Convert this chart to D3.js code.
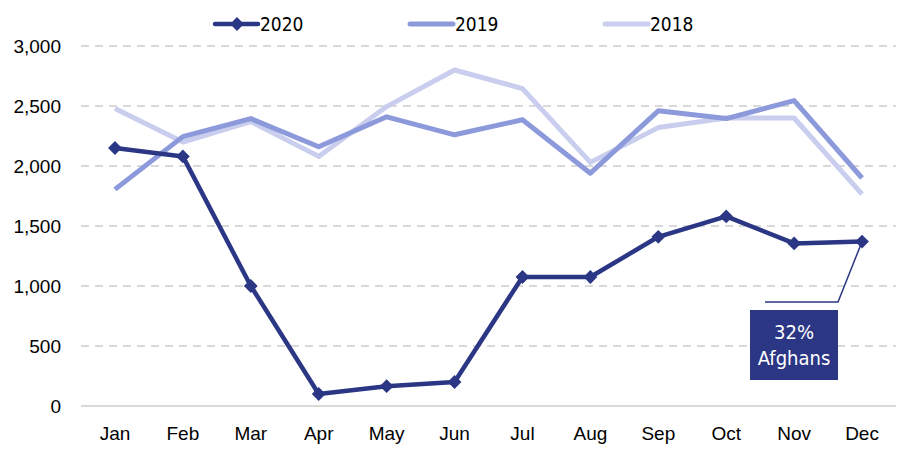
<!DOCTYPE html>
<html>
<head>
<meta charset="utf-8">
<script src="https://cdn.jsdelivr.net/npm/d3@7"></script>
<style>
  body { margin: 0; background: #fff; }
  svg { display: block; font-family: "DejaVu Sans Condensed", "Liberation Sans Narrow", "Liberation Sans", sans-serif; }
</style>
</head>
<body>
<svg id="chart" width="903" height="451"></svg>
<script>
// -------------------------
// Data
// -------------------------
const months = ["Jan", "Feb", "Mar", "Apr", "May", "Jun", "Jul", "Aug", "Sep", "Oct", "Nov", "Dec"];
const values2020 = [2150, 2080, 1000, 100, 165, 200, 1075, 1075, 1410, 1580, 1355, 1370];
const values2019 = [1805, 2245, 2395, 2160, 2410, 2260, 2385, 1940, 2460, 2395, 2545, 1900];
const values2018 = [2480, 2200, 2370, 2080, 2495, 2800, 2645, 2030, 2320, 2400, 2400, 1765];
const yTicks = [0, 500, 1000, 1500, 2000, 2500, 3000];
const noteLines = ["32%", "Afghans"];

const series = [
    {name: "2018", values: values2018, color: "#c9ceee", width: 5, marker: false},
    {name: "2019", values: values2019, color: "#8c9adb", width: 5, marker: false},
    {name: "2020", values: values2020, color: "#2b3784", width: 4.5, marker: true}
];

// -------------------------
// Scales
// -------------------------
const svg = d3.select("#chart");
const plotLeft = 81, plotRight = 896, plotTop = 46, plotBottom = 406;

const x = d3.scaleBand().domain(months).range([plotLeft, plotRight]);
const xc = m => x(m) + x.bandwidth() / 2;
const y = d3.scaleLinear().domain([0, 3000]).range([plotBottom, plotTop]);

// gridlines
svg.append("g")
    .selectAll("line")
    .data(yTicks.filter(t => t > 0))
    .enter()
    .append("line")
    .attr("x1", plotLeft).attr("x2", plotRight)
    .attr("y1", d => y(d)).attr("y2", d => y(d))
    .attr("stroke", "#d9d9d9")
    .attr("stroke-width", 2)
    .attr("stroke-dasharray", "8,6");

svg.append("line")
    .attr("x1", plotLeft).attr("x2", plotRight)
    .attr("y1", y(0)).attr("y2", y(0))
    .attr("stroke", "#d9d9d9")
    .attr("stroke-width", 2);

// y axis labels
const yAxis = svg.append("g")
    .attr("transform", `translate(${plotLeft - 20},0)`)
    .call(d3.axisLeft(y).tickValues(yTicks).tickSize(0).tickPadding(0).tickFormat(d3.format(",")));
yAxis.select(".domain").remove();
yAxis.selectAll("text")
    .attr("font-size", 19)
    .attr("fill", "#000")
    .attr("font-family", "inherit");

// x axis labels
const xAxis = svg.append("g")
    .attr("transform", `translate(0,${plotBottom + 20})`)
    .call(d3.axisBottom(x).tickSize(0).tickPadding(0));
xAxis.select(".domain").remove();
xAxis.selectAll("text")
    .attr("font-size", 19)
    .attr("fill", "#000")
    .attr("font-family", "inherit");

// -------------------------
// Lines
// -------------------------
const lineGen = d3.line()
    .x((d, i) => xc(months[i]))
    .y(d => y(d));

const diamond = d3.symbol().type(d3.symbolSquare).size(95);

series.forEach(s => {
    svg.append("path")
        .datum(s.values)
        .attr("d", lineGen)
        .attr("fill", "none")
        .attr("stroke", s.color)
        .attr("stroke-width", s.width)
        .attr("stroke-linejoin", "round");
    if (s.marker) {
        svg.append("g")
            .selectAll("path")
            .data(s.values)
            .enter()
            .append("path")
            .attr("d", diamond)
            .attr("transform", (d, i) => `translate(${xc(months[i])},${y(d)}) rotate(45)`)
            .attr("fill", s.color);
    }
});

// -------------------------
// Annotation
// -------------------------
const lastX = xc("Dec"), lastY = y(values2020[11]);
svg.append("polyline")
    .attr("points", `765,302 838,302 ${lastX},${lastY}`)
    .attr("fill", "none")
    .attr("stroke", "#2b3784")
    .attr("stroke-width", 1.5);
svg.append("rect")
    .attr("x", 750).attr("y", 310)
    .attr("width", 88).attr("height", 70)
    .attr("fill", "#2b3784");
svg.append("text")
    .attr("x", 794).attr("y", 339)
    .attr("text-anchor", "middle")
    .attr("fill", "#fff")
    .attr("font-size", 20)
    .selectAll("tspan")
    .data(noteLines)
    .enter()
    .append("tspan")
    .attr("x", 794)
    .attr("dy", (d, i) => i === 0 ? 0 : 26)
    .text(d => d);

// -------------------------
// Legend
// -------------------------
const legendItems = [series[2], series[1], series[0]];
const legend = svg.append("g").attr("transform", "translate(215,24)");
legendItems.forEach((s, i) => {
    const g = legend.append("g").attr("transform", `translate(${i * 195},0)`);
    g.append("line")
        .attr("x1", 0).attr("x2", 43)
        .attr("stroke", s.color)
        .attr("stroke-width", s.width)
        .attr("stroke-linecap", "round");
    if (s.marker) {
        g.append("path")
            .attr("d", diamond)
            .attr("transform", "translate(22,0) rotate(45)")
            .attr("fill", s.color);
    }
    g.append("text")
        .attr("x", 45).attr("y", 7)
        .attr("font-size", 19)
        .attr("fill", "#000")
        .text(s.name);
});
</script>
</body>
</html>
